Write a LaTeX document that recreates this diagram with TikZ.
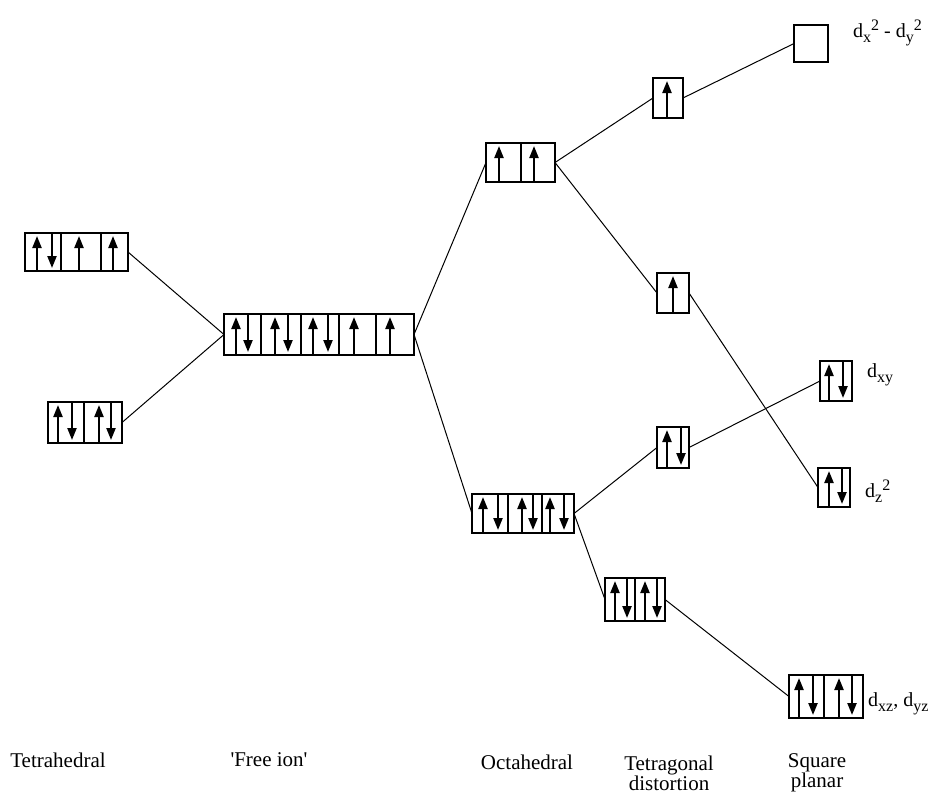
\documentclass[tikz,border=0pt]{standalone}
\usepackage{fontspec}
\setmainfont{Liberation Serif}[Ligatures=TeXOff]
\usetikzlibrary{arrows.meta}
% orbital box: name, centre x, centre y, width, height
\newcommand\orbbox[5]{\node[orb, minimum width=#4pt, minimum height=#5pt] (#1) at (#2,#3) {};}
% cell divider at x between top and bottom
\newcommand\cellwall[3]{\draw[orbline] (#1,#2) -- (#1,#3);}
% spin-up and spin-down electrons at x, between box top and bottom
\newcommand\eup[3]{\draw[spin] (#1,#3-1) -- (#1,#2+3);}
\newcommand\edown[3]{\draw[spin] (#1,#2+1) -- (#1,#3-3);}
% orbital subscripts and superscripts
\newcommand\osub[1]{\raisebox{-5pt}{\fontsize{16}{16}\selectfont #1}}
\newcommand\osup[1]{\raisebox{7pt}{\fontsize{16}{16}\selectfont #1}}
\begin{document}
\begin{tikzpicture}[x=1pt,y=-1pt,
  orbline/.style={line width=1.3pt},
  orb/.style={draw, orbline, rectangle, inner sep=0pt, outer sep=0pt},
  spin/.style={line width=2.2pt, -{Triangle[length=12pt,width=9pt]}},
  link/.style={line width=1pt},
  lab/.style={font=\fontsize{21}{20}\selectfont, inner sep=0pt},
  orblab/.style={font=\fontsize{20}{20}\selectfont, inner sep=0pt, anchor=base west}]
\useasboundingbox (0,0) rectangle (933,793);

% ---- Tetrahedral ----
\orbbox{tetA}{76.5}{252}{103}{38}
\cellwall{61}{233}{271}\cellwall{101}{233}{271}
\eup{37}{233}{271}\edown{52}{233}{271}\eup{79}{233}{271}\eup{113}{233}{271}

\orbbox{tetB}{85}{422.5}{74}{41}
\cellwall{84}{402}{443}
\eup{58}{402}{443}\edown{72}{402}{443}\eup{99}{402}{443}\edown{111}{402}{443}

% ---- Free ion ----
\orbbox{free}{319}{334.5}{190}{41}
\cellwall{261}{314}{355}\cellwall{301}{314}{355}\cellwall{339}{314}{355}\cellwall{376}{314}{355}
\eup{236}{314}{355}\edown{248}{314}{355}
\eup{275}{314}{355}\edown{288}{314}{355}
\eup{313}{314}{355}\edown{328}{314}{355}
\eup{354}{314}{355}\eup{390}{314}{355}

% ---- Octahedral ----
\orbbox{octA}{520.5}{162.5}{69}{39}
\cellwall{521}{143}{182}
\eup{499}{143}{182}\eup{534}{143}{182}

\orbbox{octB}{523}{513.5}{102}{39}
\cellwall{508}{494}{533}\cellwall{542}{494}{533}
\eup{483}{494}{533}\edown{498}{494}{533}
\eup{522}{494}{533}\edown{533}{494}{533}
\eup{550}{494}{533}\edown{564}{494}{533}

% ---- Tetragonal distortion ----
\orbbox{tgA}{668}{98}{30}{40}
\eup{667}{78}{118}

\orbbox{tgB}{673}{293}{32}{40}
\eup{673}{273}{313}

\orbbox{tgC}{673}{447.5}{32}{41}
\eup{667}{427}{468}\edown{681}{427}{468}

\orbbox{tgD}{635}{599.5}{60}{43}
\cellwall{635}{578}{621}
\eup{615}{578}{621}\edown{627}{578}{621}\eup{645}{578}{621}\edown{657}{578}{621}

% ---- Square planar ----
\orbbox{sqA}{811}{43.5}{34}{37}

\orbbox{sqB}{836}{381}{32}{40}
\eup{829}{361}{401}\edown{843}{361}{401}

\orbbox{sqC}{834}{487.5}{32}{39}
\eup{829}{468}{507}\edown{842}{468}{507}

\orbbox{sqD}{826}{696.5}{74}{43}
\cellwall{824}{675}{718}
\eup{799}{675}{718}\edown{813}{675}{718}\eup{839}{675}{718}\edown{852}{675}{718}

% ---- correlation lines ----
\draw[link] (tetA.east) -- (free.west);
\draw[link] (tetB.east) -- (free.west);
\draw[link] (free.east) -- (octA.west);
\draw[link] (free.east) -- (octB.west);
\draw[link] (octA.east) -- (tgA.west);
\draw[link] (octA.east) -- (tgB.west);
\draw[link] (octB.east) -- (tgC.west);
\draw[link] (octB.east) -- (tgD.west);
\draw[link] (tgA.east) -- (sqA.west);
\draw[link] (tgB.east) -- (sqC.west);
\draw[link] (tgC.east) -- (sqB.west);
\draw[link] (tgD.east) -- (sqD.west);

% ---- orbital labels ----
\node[orblab] (lx2y2) at (853,37) {d\osub{x}\osup{2} - d\osub{y}\osup{2}};
\node[orblab] (lxy) at (867,377) {d\osub{xy}};
\node[orblab] (lz2) at (865,497) {d\osub{z}\osup{2}};
\node[orblab] (lxzyz) at (868,706) {d\osub{xz}, d\osub{yz}};

% ---- geometry labels ----
\node[lab] (ttet) at (58,760) {Tetrahedral};
\node[lab] (tfree) at (269,760) {'Free ion'};
\node[lab] (toct) at (527,762) {Octahedral};
\node[lab, align=center] (ttg) at (669,773) {Tetragonal\\distortion};
\node[lab, align=center] (tsq) at (817,773) {Square\\planar};
\end{tikzpicture}
\end{document}
